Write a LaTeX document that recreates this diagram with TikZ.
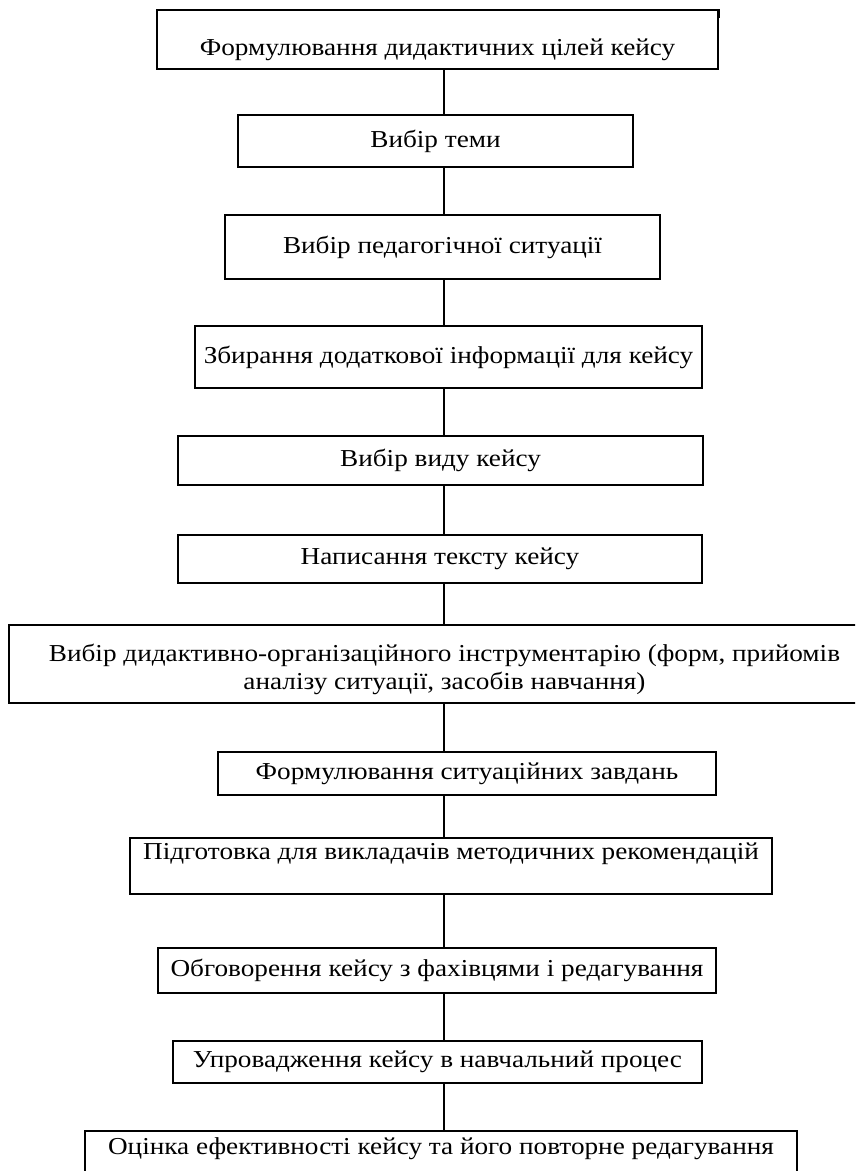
\documentclass[tikz,border=0pt]{standalone}
\usepackage{fontspec}
\setmainfont{Liberation Serif}[FakeStretch=1.12]
\tikzset{
  box/.style={draw, line width=1.6pt, inner sep=0pt, align=center,
    font=\fontsize{24.3}{28}\selectfont},
  conn/.style={line width=1.4pt}
}
\newcommand\bx[6]{\node[box, minimum width={#4-#2}, minimum height={#5-#3}] (#1) at ({(#2+#4)/2},{(#3+#5)/2}) {#6};}
\begin{document}
\begin{tikzpicture}[x=1pt,y=-1pt]
\useasboundingbox (0,0) rectangle (855,1171);
\clip (0,0) rectangle (855,1171);
\coordinate (cx) at (444,0);
\node[box, minimum width=561pt, minimum height=0pt, text height=46pt, text depth=13pt, anchor=north] (b1) at (437.5,9) {Формулювання дидактичних цілей кейсу};
\bx{b2}{238}{115}{633}{167}{Вибір теми}
\bx{b3}{225}{215}{660}{279}{Вибір педагогічної ситуації}
\bx{b4}{195}{326}{702}{388}{Збирання додаткової інформації для кейсу}
\bx{b5}{178}{436}{703}{485}{Вибір виду кейсу}
\bx{b6}{178}{535}{702}{583}{Написання тексту кейсу}
\bx{b7}{9}{625}{880}{703}{\rule{0pt}{29pt}Вибір дидактивно-організаційного інструментарію (форм, прийомів\\ аналізу ситуації, засобів навчання)}
\bx{b8}{218}{752}{716}{795}{Формулювання ситуаційних завдань}
\node[box, minimum width=642pt, minimum height=0pt, text height=22pt, text depth=34pt, anchor=north] (b9) at (451,837) {Підготовка для викладачів методичних рекомендацій};
\bx{b10}{158}{948}{716}{993}{Обговорення кейсу з фахівцями і редагування}
\bx{b11}{173}{1041}{702}{1083}{Упровадження кейсу в навчальний процес}
\node[box, minimum width=712pt, minimum height=0pt, text height=24pt, text depth=31pt, anchor=north] (b12) at (441,1130) {Оцінка ефективності кейсу та його повторне редагування};
\draw[conn] (b1.north east) -- ++(0,9);
\draw[conn] (b1.south -| cx) -- (b2.north -| cx);
\draw[conn] (b2.south -| cx) -- (b3.north -| cx);
\draw[conn] (b3.south -| cx) -- (b4.north -| cx);
\draw[conn] (b4.south -| cx) -- (b5.north -| cx);
\draw[conn] (b5.south -| cx) -- (b6.north -| cx);
\draw[conn] (b6.south -| cx) -- (b7.north -| cx);
\draw[conn] (b7.south -| cx) -- (b8.north -| cx);
\draw[conn] (b8.south -| cx) -- (b9.north -| cx);
\draw[conn] (b9.south -| cx) -- (b10.north -| cx);
\draw[conn] (b10.south -| cx) -- (b11.north -| cx);
\draw[conn] (b11.south -| cx) -- (b12.north -| cx);
\end{tikzpicture}
\end{document}
